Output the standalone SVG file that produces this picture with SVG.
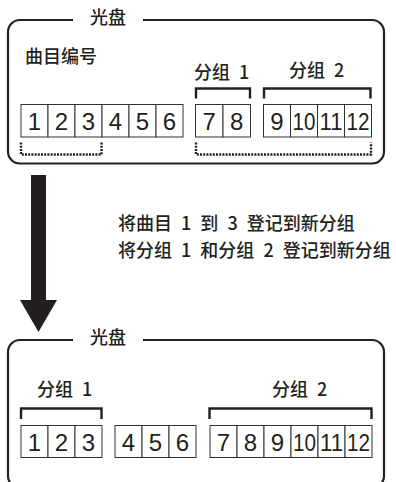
<svg xmlns="http://www.w3.org/2000/svg" width="396" height="482" viewBox="0 0 396 482">
<style>
.frame{fill:none;stroke:#231f20;stroke-width:2.2}
.cell{fill:#fff;stroke:#333;stroke-width:1}
.num{font-family:"Liberation Sans",Arial,sans-serif;font-size:24px;fill:#231f20;text-anchor:middle}
.lbl{font-family:"Noto Sans CJK SC","Noto Sans CJK JP",sans-serif;font-size:18px;font-weight:500;fill:#231f20;word-spacing:5px}
.br{fill:none;stroke:#231f20;stroke-width:2.4}
.dot{fill:none;stroke:#231f20;stroke-width:2.4;stroke-dasharray:2 1.2}
</style>
<rect width="396" height="482" fill="#fff"/>
<g id="disc-before">
<path class="frame" d="M73,20 H20 A12,12 0 0 0 8,32 V151.5 A12,12 0 0 0 20,163.5 H372 A12,12 0 0 0 384,151.5 V32 A12,12 0 0 0 372,20 H143"/>
<text class="lbl" x="90" y="24">光盘</text>
<text class="lbl" x="25" y="63">曲目编号</text>
<text class="lbl" x="194" y="79">分组 1</text>
<text class="lbl" x="289" y="76.5">分组 2</text>
<path class="br" d="M196,98.5 V88.5 H250 V98.5"/>
<path class="br" d="M264,98.5 V88.5 H370.5 V98.5"/>
<g id="cells-before">
<rect class="cell" x="21" y="104.5" width="27" height="32.5"/>
<rect class="cell" x="48" y="104.5" width="27" height="32.5"/>
<rect class="cell" x="75" y="104.5" width="27" height="32.5"/>
<rect class="cell" x="102" y="104.5" width="27" height="32.5"/>
<rect class="cell" x="129" y="104.5" width="27" height="32.5"/>
<rect class="cell" x="156" y="104.5" width="27" height="32.5"/>
<rect class="cell" x="195.5" y="104.5" width="27.5" height="32.5"/>
<rect class="cell" x="223" y="104.5" width="27.5" height="32.5"/>
<rect class="cell" x="263.5" y="104.5" width="27" height="32.5"/>
<rect class="cell" x="290.5" y="104.5" width="27" height="32.5"/>
<rect class="cell" x="317.5" y="104.5" width="27" height="32.5"/>
<rect class="cell" x="344.5" y="104.5" width="27" height="32.5"/>
<text class="num" x="34.5" y="130">1</text>
<text class="num" x="61.5" y="130">2</text>
<text class="num" x="88.5" y="130">3</text>
<text class="num" x="115.5" y="130">4</text>
<text class="num" x="142.5" y="130">5</text>
<text class="num" x="169.5" y="130">6</text>
<text class="num" x="209.25" y="130">7</text>
<text class="num" x="236.75" y="130">8</text>
<text class="num" x="277" y="130">9</text>
<text class="num" x="304" y="130" textLength="23" lengthAdjust="spacingAndGlyphs">10</text>
<text class="num" x="331" y="130" textLength="23" lengthAdjust="spacingAndGlyphs">11</text>
<text class="num" x="358" y="130" textLength="23" lengthAdjust="spacingAndGlyphs">12</text>
</g>
<path class="dot" d="M21,142.5 V154.5 H101.5 V142.5"/>
<path class="dot" d="M196,142.5 V154.5 H371 V142.5"/>
</g>
<g id="connectors">
<polygon fill="#231f20" points="31,175 46,175 46,300 57,300 38.5,332 20,300 31,300"/>
<text class="lbl" x="118" y="230">将曲目 1 到 3 登记到新分组</text>
<text class="lbl" x="118" y="257">将分组 1 和分组 2 登记到新分组</text>
</g>
<g id="disc-after">
<path class="frame" d="M73,340 H20 A12,12 0 0 0 8,352 V476 A12,12 0 0 0 20,488 H372 A12,12 0 0 0 384,476 V352 A12,12 0 0 0 372,340 H143"/>
<text class="lbl" x="90" y="344">光盘</text>
<text class="lbl" x="37" y="396">分组 1</text>
<text class="lbl" x="272" y="396">分组 2</text>
<path class="br" d="M21,419 V408.5 H101.5 V419"/>
<path class="br" d="M209.5,419 V408.5 H371.5 V419"/>
<g id="cells-after">
<rect class="cell" x="21" y="425.5" width="27" height="32"/>
<rect class="cell" x="48" y="425.5" width="27" height="32"/>
<rect class="cell" x="75" y="425.5" width="27" height="32"/>
<rect class="cell" x="115" y="425.5" width="27" height="32"/>
<rect class="cell" x="142" y="425.5" width="27" height="32"/>
<rect class="cell" x="169" y="425.5" width="27" height="32"/>
<rect class="cell" x="210" y="425.5" width="27" height="32"/>
<rect class="cell" x="237" y="425.5" width="27" height="32"/>
<rect class="cell" x="264" y="425.5" width="27" height="32"/>
<rect class="cell" x="291" y="425.5" width="27" height="32"/>
<rect class="cell" x="318" y="425.5" width="27" height="32"/>
<rect class="cell" x="345" y="425.5" width="27" height="32"/>
<text class="num" x="34.5" y="450.5">1</text>
<text class="num" x="61.5" y="450.5">2</text>
<text class="num" x="88.5" y="450.5">3</text>
<text class="num" x="128.5" y="450.5">4</text>
<text class="num" x="155.5" y="450.5">5</text>
<text class="num" x="182.5" y="450.5">6</text>
<text class="num" x="223.5" y="450.5">7</text>
<text class="num" x="250.5" y="450.5">8</text>
<text class="num" x="277.5" y="450.5">9</text>
<text class="num" x="304.5" y="450.5" textLength="23" lengthAdjust="spacingAndGlyphs">10</text>
<text class="num" x="331.5" y="450.5" textLength="23" lengthAdjust="spacingAndGlyphs">11</text>
<text class="num" x="358.5" y="450.5" textLength="23" lengthAdjust="spacingAndGlyphs">12</text>
</g>
</g>
</svg>
